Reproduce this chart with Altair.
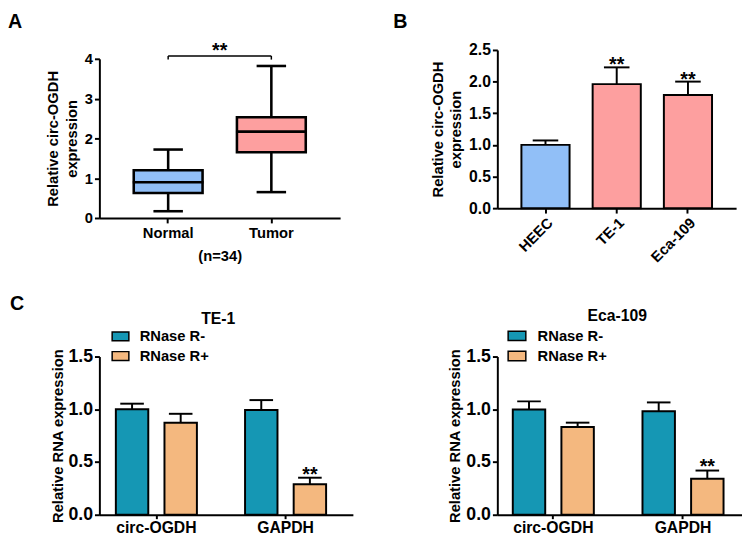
import altair as alt
import pandas as pd

FONT = "Liberation Sans"

# ---------------- Panel A: box plot ----------------
a_groups = ["Normal", "Tumor"]
a_min = [0.17, 0.65]
a_q1 = [0.63, 1.65]
a_median = [0.90, 2.17]
a_q3 = [1.20, 2.53]
a_max = [1.72, 3.82]
a_fill = ["#91bff7", "#fd9f9f"]
a_n_label = "(n=34)"
a_bracket = 4.07
a_bracket_leg = 3.98
a_ticks = [0, 1, 2, 3, 4]

# ---------------- Panel B: bars ----------------
b_cells = ["HEEC", "TE-1", "Eca-109"]
b_mean = [1.00, 1.96, 1.79]
b_upper = [1.07, 2.225, 2.00]
b_fill = ["#91bff7", "#fd9f9f", "#fd9f9f"]
b_sig = ["", "**", "**"]
b_ticks = [0, 0.5, 1, 1.5, 2, 2.5]

# ---------------- Panel C: grouped bars ----------------
c_genes = ["circ-OGDH", "GAPDH"]
c_treat = ["RNase R-", "RNase R+"]
c_colors = ["#1597b4", "#f4b87f"]
te1_minus = [1.00, 0.994]
te1_minus_up = [1.053, 1.087]
te1_plus = [0.873, 0.289]
te1_plus_up = [0.957, 0.351]
eca_minus = [0.997, 0.981]
eca_minus_up = [1.075, 1.065]
eca_plus = [0.832, 0.342]
eca_plus_up = [0.873, 0.419]
c_sig_plus = ["", "**"]
c_ticks = [0, 0.5, 1, 1.5]


def letter(ch, x, y):
    return alt.Chart(pd.DataFrame({"t": [ch]})).mark_text(
        font=FONT, fontSize=20, fontWeight="bold", align="left", baseline="alphabetic", color="black"
    ).encode(x=alt.value(x), y=alt.value(y), text="t:N")


# ---- Panel A ----
dfA = pd.DataFrame(dict(group=a_groups, lo=a_min, q1=a_q1, med=a_median, q3=a_q3, hi=a_max, fill=a_fill))
yA_scale = alt.Scale(domain=[0, 4], range=[171, 9], nice=False)
yA_axis = alt.Axis(values=a_ticks, title=["Relative circ-OGDH", "expression"],
                   labelFontSize=15, titleFontSize=15, titlePadding=5, labelPadding=2,
                   titleLineHeight=19, labelOverlap=False)


def yA(field):
    return alt.Y(field, scale=yA_scale, axis=yA_axis)


xA_scale = alt.Scale(domain=a_groups, range=[0, 245], paddingInner=0.333, paddingOuter=0.333)
xA_axis = alt.Axis(title=a_n_label, labelAngle=0, labelFontSize=15, titleFontSize=15,
                   labelPadding=3, titlePadding=8)


def xA(field):
    return alt.X(field, sort=a_groups, scale=xA_scale, axis=xA_axis)


baseA = alt.Chart(dfA)
boxA = baseA.mark_bar(stroke="black", strokeWidth=2.6, opacity=1).encode(
    x=xA("group:N"), y=yA("q1:Q"), y2="q3:Q", fill=alt.Fill("fill:N", scale=None))
whiskLo = baseA.mark_rule(color="black", strokeWidth=2.6).encode(x=xA("group:N"), y=yA("lo:Q"), y2="q1:Q")
whiskHi = baseA.mark_rule(color="black", strokeWidth=2.6).encode(x=xA("group:N"), y=yA("q3:Q"), y2="hi:Q")
capLo = baseA.mark_tick(color="black", size=30, thickness=2.6, opacity=1).encode(x=xA("group:N"), y=yA("lo:Q"))
capHi = baseA.mark_tick(color="black", size=30, thickness=2.6, opacity=1).encode(x=xA("group:N"), y=yA("hi:Q"))
medA = baseA.mark_tick(color="black", size=72, thickness=2.6, opacity=1).encode(x=xA("group:N"), y=yA("med:Q"))

dfAsig = pd.DataFrame({"group": [a_groups[0]], "group2": [a_groups[1]], "y": [a_bracket], "label": ["**"]})
dfAlegs = pd.DataFrame({"group": a_groups, "y1": [a_bracket_leg] * 2, "y2": [a_bracket] * 2})
bracketA = alt.Chart(dfAsig).mark_rule(color="black", strokeWidth=1.5).encode(
    x=xA("group:N"), x2=alt.X2("group2"), y=yA("y:Q"))
legsA = alt.Chart(dfAlegs).mark_rule(color="black", strokeWidth=1.5).encode(
    x=xA("group:N"), y=yA("y1:Q"), y2="y2:Q")
starsA = alt.Chart(dfAsig).mark_text(
    font=FONT, fontSize=20, fontWeight="bold", baseline="alphabetic", dx=52.5, dy=1, color="black"
).encode(x=xA("group:N"), y=yA("y:Q"), text="label:N")

panelA = alt.layer(boxA, whiskLo, whiskHi, capLo, capHi, medA, bracketA, legsA, starsA,
                   letter("A", -93, -22)).properties(width=305, height=171)

# ---- Panel B ----
dfB = pd.DataFrame(dict(cell=b_cells, mean=b_mean, upper=b_upper, fill=b_fill, sig=b_sig))
baseB = alt.Chart(dfB)
xB_scale = alt.Scale(domain=b_cells, range=[0, 243], paddingInner=0.324, paddingOuter=0.338)
xB_axis = alt.Axis(title=None, labelAngle=-45, labelFontSize=15, labelPadding=2)
yB_scale = alt.Scale(domain=[0, 2.5], nice=False)
yB_axis = alt.Axis(values=b_ticks, format=".1f", tickCount=6,
                   title=["Relative circ-OGDH", "expression"],
                   labelFontSize=16, titleFontSize=15, titlePadding=5, labelPadding=2,
                   titleLineHeight=19, labelOverlap=False)


def xB(field):
    return alt.X(field, sort=b_cells, scale=xB_scale, axis=xB_axis)


def yB(field):
    return alt.Y(field, scale=yB_scale, axis=yB_axis)


barsB = baseB.mark_bar(stroke="black", strokeWidth=2, opacity=1).encode(
    x=xB("cell:N"), y=yB("mean:Q"), fill=alt.Fill("fill:N", scale=None))
errB = baseB.mark_rule(color="black", strokeWidth=2).encode(x=xB("cell:N"), y=yB("mean:Q"), y2="upper:Q")
capB = baseB.mark_tick(color="black", size=26, thickness=2, opacity=1).encode(x=xB("cell:N"), y=yB("upper:Q"))
sigB = baseB.mark_text(font=FONT, fontSize=20, fontWeight="bold", baseline="alphabetic", dy=4,
                       color="black").encode(x=xB("cell:N"), y=yB("upper:Q"), text="sig:N")
panelB = alt.layer(barsB, errB, capB, sigB, letter("B", -106, -22)).properties(width=243, height=161)


# ---- Panel C ----
def panel_c(title, minus, minus_up, plus, plus_up, width, rng, pin, pout, align, title_x, title_y,
            leg_x, leg_y, sym, lab_off, row_pad, ch=None):
    df = pd.DataFrame({
        "gene": c_genes * 2,
        "treat": [c_treat[0]] * 2 + [c_treat[1]] * 2,
        "value": minus + plus,
        "upper": minus_up + plus_up,
        "sig": ["", ""] + c_sig_plus,
    })
    base = alt.Chart(df)
    x_scale = alt.Scale(domain=c_genes, range=[0, rng], paddingInner=pin, paddingOuter=pout, align=align)
    x_axis = alt.Axis(title=None, labelAngle=0, labelFontSize=16, tickSize=4, labelPadding=1)
    y_scale = alt.Scale(domain=[0, 1.5], nice=False)
    y_axis = alt.Axis(values=c_ticks, format=".1f", title="Relative RNA expression",
                      labelFontSize=18, titleFontSize=15, titlePadding=3, labelPadding=2,
                      labelOverlap=False)
    xo_scale = alt.Scale(domain=c_treat, paddingInner=0.333, paddingOuter=0.177)

    def X(f):
        return alt.X(f, sort=c_genes, scale=x_scale, axis=x_axis)

    def Y(f):
        return alt.Y(f, scale=y_scale, axis=y_axis)

    def XO(f):
        return alt.XOffset(f, sort=c_treat, scale=xo_scale)

    bars = base.mark_bar(stroke="black", strokeWidth=2, opacity=1).encode(
        x=X("gene:N"), xOffset=XO("treat:N"), y=Y("value:Q"),
        fill=alt.Fill("treat:N", sort=c_treat,
                      scale=alt.Scale(domain=c_treat, range=c_colors),
                      legend=alt.Legend(orient="none", legendX=leg_x, legendY=leg_y, title=None,
                                        direction="vertical",
                                        symbolType="M-1,-0.53H1V0.53H-1Z", symbolSize=sym,
                                        symbolStrokeColor="black", symbolStrokeWidth=1.5,
                                        symbolOpacity=1,
                                        labelFont=FONT, labelFontSize=15, labelFontWeight="bold",
                                        labelColor="black", labelOffset=lab_off,
                                        rowPadding=row_pad, padding=0)),
    )
    err = base.mark_rule(color="black", strokeWidth=2).encode(
        x=X("gene:N"), xOffset=XO("treat:N"), y=Y("value:Q"), y2="upper:Q")
    cap = base.mark_tick(color="black", size=24, thickness=2, opacity=1).encode(
        x=X("gene:N"), xOffset=XO("treat:N"), y=Y("upper:Q"))
    sig = base.mark_text(font=FONT, fontSize=20, fontWeight="bold", baseline="alphabetic", dy=3,
                         color="black").encode(
        x=X("gene:N"), xOffset=XO("treat:N"), y=Y("upper:Q"), text="sig:N")
    ttl = alt.Chart(pd.DataFrame({"t": [title]})).mark_text(
        font=FONT, fontSize=16, fontWeight="bold", align="center", baseline="alphabetic", color="black"
    ).encode(x=alt.value(title_x), y=alt.value(title_y), text="t:N")
    layers = [bars, err, cap, sig, ttl]
    if ch:
        layers.append(letter(ch, -91, -47))
    return alt.layer(*layers).properties(width=width, height=161)


panelC1 = panel_c("TE-1", te1_minus, te1_minus_up, te1_plus, te1_plus_up, 293, 258,
                  0.2395, 0.1008, 0.302, 121, -33, 12, -30, 289, 10, 2, ch="C")
panelC2 = panel_c("Eca-109", eca_minus, eca_minus_up, eca_plus, eca_plus_up, 249, 249,
                  0.2424, 0.0644, 0.41, 122, -36, 10, -31, 324, 11, 2.5)

chart = alt.concat(
    panelA, panelB, panelC1, panelC2,
    columns=2,
    spacing={"row": 141, "column": 100},
    align={"row": "all", "column": "none"},
    bounds="flush",
).resolve_scale(
    fill="independent", x="independent", y="independent", xOffset="independent"
).resolve_legend(
    fill="independent"
).properties(
    padding=0
).configure_view(
    stroke=None
).configure_axis(
    domainColor="black", domainWidth=2, tickColor="black", tickWidth=2, tickSize=5,
    labelColor="black", labelFont=FONT, labelFontWeight="bold",
    titleColor="black", titleFont=FONT, titleFontWeight="bold", grid=False,
)

chart.save("out.html", embed_options={"renderer": "svg", "actions": False})
